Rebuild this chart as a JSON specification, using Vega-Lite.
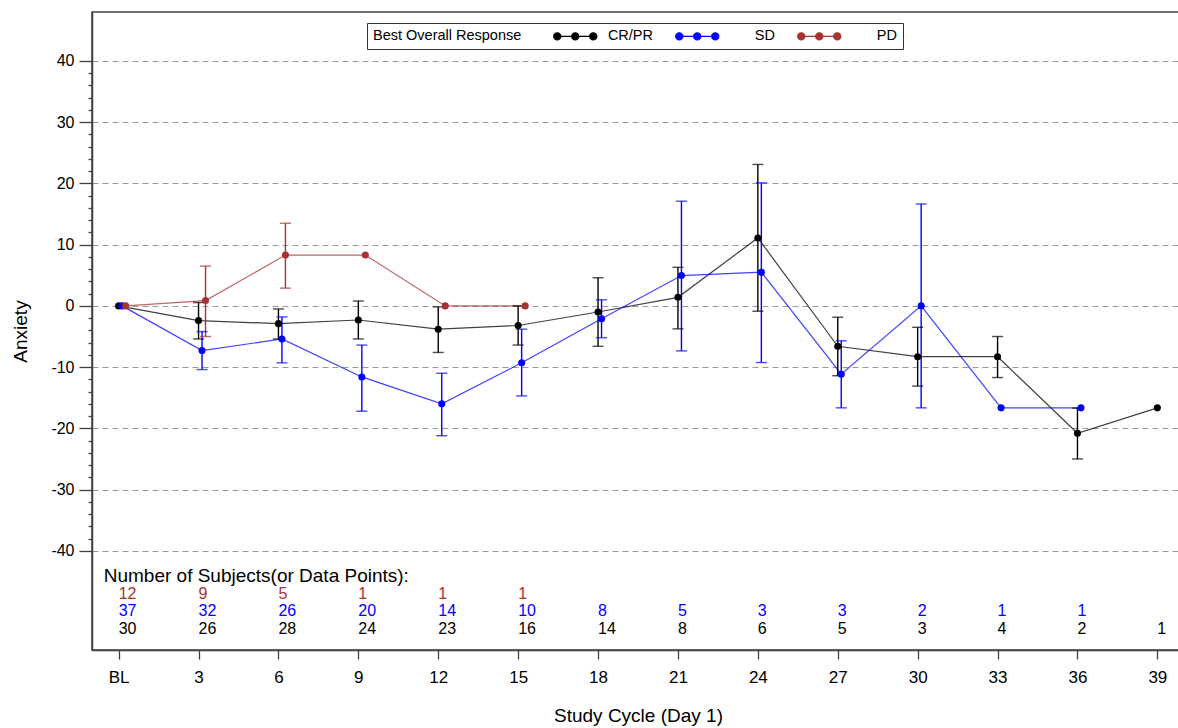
{
  "$schema": "https://vega.github.io/schema/vega-lite/v6.json",
  "width": 1092,
  "height": 638,
  "autosize": {"type": "none"},
  "padding": {"left": 92, "top": 12, "right": 0, "bottom": 78},
  "background": "white",
  "config": {
    "font": "Liberation Sans",
    "view": {"stroke": "#404040", "strokeWidth": 1.5}
  },
  "datasets": {
    "stats": [
      {"group": "CR/PR", "cycle": 0, "mean": 0, "lo": null, "hi": null},
      {"group": "CR/PR", "cycle": 3, "mean": -2.4, "lo": -5.4, "hi": 0.55},
      {"group": "CR/PR", "cycle": 6, "mean": -2.9, "lo": -5.4, "hi": -0.5},
      {"group": "CR/PR", "cycle": 9, "mean": -2.3, "lo": -5.4, "hi": 0.8},
      {"group": "CR/PR", "cycle": 12, "mean": -3.8, "lo": -7.6, "hi": -0.16},
      {"group": "CR/PR", "cycle": 15, "mean": -3.2, "lo": -6.4, "hi": 0.0},
      {"group": "CR/PR", "cycle": 18, "mean": -1.0, "lo": -6.6, "hi": 4.6},
      {"group": "CR/PR", "cycle": 21, "mean": 1.4, "lo": -3.75, "hi": 6.3},
      {"group": "CR/PR", "cycle": 24, "mean": 11.1, "lo": -0.87, "hi": 23.1},
      {"group": "CR/PR", "cycle": 27, "mean": -6.6, "lo": -11.4, "hi": -1.85},
      {"group": "CR/PR", "cycle": 30, "mean": -8.3, "lo": -13.1, "hi": -3.5},
      {"group": "CR/PR", "cycle": 33, "mean": -8.3, "lo": -11.7, "hi": -5.0},
      {"group": "CR/PR", "cycle": 36, "mean": -20.8, "lo": -25.0, "hi": -16.7},
      {"group": "CR/PR", "cycle": 39, "mean": -16.65, "lo": null, "hi": null},
      {"group": "SD", "cycle": 0, "mean": 0, "lo": null, "hi": null},
      {"group": "SD", "cycle": 3, "mean": -7.3, "lo": -10.4, "hi": -4.2},
      {"group": "SD", "cycle": 6, "mean": -5.4, "lo": -9.3, "hi": -1.8},
      {"group": "SD", "cycle": 9, "mean": -11.6, "lo": -17.2, "hi": -6.4},
      {"group": "SD", "cycle": 12, "mean": -16.0, "lo": -21.2, "hi": -11.0},
      {"group": "SD", "cycle": 15, "mean": -9.3, "lo": -14.7, "hi": -3.8},
      {"group": "SD", "cycle": 18, "mean": -2.1, "lo": -5.2, "hi": 1.0},
      {"group": "SD", "cycle": 21, "mean": 4.95, "lo": -7.35, "hi": 17.1},
      {"group": "SD", "cycle": 24, "mean": 5.5, "lo": -9.25, "hi": 20.1},
      {"group": "SD", "cycle": 27, "mean": -11.15, "lo": -16.65, "hi": -5.7},
      {"group": "SD", "cycle": 30, "mean": 0, "lo": -16.65, "hi": 16.65},
      {"group": "SD", "cycle": 33, "mean": -16.65, "lo": null, "hi": null},
      {"group": "SD", "cycle": 36, "mean": -16.65, "lo": null, "hi": null},
      {"group": "PD", "cycle": 0, "mean": 0, "lo": null, "hi": null},
      {"group": "PD", "cycle": 3, "mean": 0.87, "lo": -5.0, "hi": 6.5},
      {"group": "PD", "cycle": 6, "mean": 8.3, "lo": 2.9, "hi": 13.5},
      {"group": "PD", "cycle": 9, "mean": 8.3, "lo": null, "hi": null},
      {"group": "PD", "cycle": 12, "mean": 0, "lo": null, "hi": null},
      {"group": "PD", "cycle": 15, "mean": 0, "lo": null, "hi": null}
    ],
    "counts": [
      {"group": "PD", "cycle": 0, "n": 12},
      {"group": "PD", "cycle": 3, "n": 9},
      {"group": "PD", "cycle": 6, "n": 5},
      {"group": "PD", "cycle": 9, "n": 1},
      {"group": "PD", "cycle": 12, "n": 1},
      {"group": "PD", "cycle": 15, "n": 1},
      {"group": "SD", "cycle": 0, "n": 37},
      {"group": "SD", "cycle": 3, "n": 32},
      {"group": "SD", "cycle": 6, "n": 26},
      {"group": "SD", "cycle": 9, "n": 20},
      {"group": "SD", "cycle": 12, "n": 14},
      {"group": "SD", "cycle": 15, "n": 10},
      {"group": "SD", "cycle": 18, "n": 8},
      {"group": "SD", "cycle": 21, "n": 5},
      {"group": "SD", "cycle": 24, "n": 3},
      {"group": "SD", "cycle": 27, "n": 3},
      {"group": "SD", "cycle": 30, "n": 2},
      {"group": "SD", "cycle": 33, "n": 1},
      {"group": "SD", "cycle": 36, "n": 1},
      {"group": "CR/PR", "cycle": 0, "n": 30},
      {"group": "CR/PR", "cycle": 3, "n": 26},
      {"group": "CR/PR", "cycle": 6, "n": 28},
      {"group": "CR/PR", "cycle": 9, "n": 24},
      {"group": "CR/PR", "cycle": 12, "n": 23},
      {"group": "CR/PR", "cycle": 15, "n": 16},
      {"group": "CR/PR", "cycle": 18, "n": 14},
      {"group": "CR/PR", "cycle": 21, "n": 8},
      {"group": "CR/PR", "cycle": 24, "n": 6},
      {"group": "CR/PR", "cycle": 27, "n": 5},
      {"group": "CR/PR", "cycle": 30, "n": 3},
      {"group": "CR/PR", "cycle": 33, "n": 4},
      {"group": "CR/PR", "cycle": 36, "n": 2},
      {"group": "CR/PR", "cycle": 39, "n": 1}
    ]
  },
  "layer": [
    {
      "data": {"name": "stats"},
      "layer": [
        {
          "mark": {"type": "line", "strokeWidth": 1.2, "opacity": 0.75, "xOffset": {"expr": "datum.group === 'SD' ? 3.5 : datum.group === 'PD' ? 7 : 0"}},
          "encoding": {
            "x": {"field": "cycle", "type": "quantitative", "scale": {"domain": [-1, 40], "nice": false, "zero": false}},
            "y": {"field": "mean", "type": "quantitative", "scale": {"domain": [-56.2, 48], "nice": false, "zero": false},
              "axis": {"orient": "left", "values": [-38, -36, -34, -32, -28, -26, -24, -22, -18, -16, -14, -12, -8, -6, -4, -2, 2, 4, 6, 8, 12, 14, 16, 18, 22, 24, 26, 28, 32, 34, 36, 38],
                "labels": false, "grid": false, "domain": false, "title": null, "tickSize": 4, "tickColor": "#404040", "tickWidth": 1.3}},
            "color": {"field": "group", "type": "nominal"},
            "detail": {"field": "group"}
          }
        },
        {
          "transform": [{"filter": "isValid(datum.lo)"}],
          "mark": {"type": "rule", "strokeWidth": 1.4, "xOffset": {"expr": "datum.group === 'SD' ? 3.5 : datum.group === 'PD' ? 7 : 0"}},
          "encoding": {
            "x": {"field": "cycle", "type": "quantitative"},
            "y": {"field": "lo", "type": "quantitative", "axis": null},
            "y2": {"field": "hi"},
            "color": {"field": "group", "type": "nominal"}
          }
        },
        {
          "transform": [{"filter": "isValid(datum.lo)"}],
          "mark": {"type": "tick", "orient": "horizontal", "size": 11, "thickness": 1.4, "xOffset": {"expr": "datum.group === 'SD' ? 3.5 : datum.group === 'PD' ? 7 : 0"}},
          "encoding": {
            "x": {"field": "cycle", "type": "quantitative"},
            "y": {"field": "lo", "type": "quantitative", "axis": null},
            "color": {"field": "group", "type": "nominal"}
          }
        },
        {
          "transform": [{"filter": "isValid(datum.hi)"}],
          "mark": {"type": "tick", "orient": "horizontal", "size": 11, "thickness": 1.4, "xOffset": {"expr": "datum.group === 'SD' ? 3.5 : datum.group === 'PD' ? 7 : 0"}},
          "encoding": {
            "x": {"field": "cycle", "type": "quantitative"},
            "y": {"field": "hi", "type": "quantitative", "axis": null},
            "color": {"field": "group", "type": "nominal"}
          }
        },
        {
          "mark": {"type": "point", "filled": true, "size": 50, "opacity": 1, "xOffset": {"expr": "datum.group === 'SD' ? 3.5 : datum.group === 'PD' ? 7 : 0"}},
          "encoding": {
            "x": {"field": "cycle", "type": "quantitative",
              "axis": {"values": [0, 3, 6, 9, 12, 15, 18, 21, 24, 27, 30, 33, 36, 39], "labelExpr": "datum.value == 0 ? 'BL' : datum.label",
                "tickSize": 9, "tickColor": "#404040", "tickWidth": 1.3, "domainColor": "#404040", "domainWidth": 1.5,
                "labelFontSize": 17, "labelColor": "black", "labelPadding": 10, "grid": false,
                "title": "Study Cycle (Day 1)", "titleFontSize": 19, "titleFontWeight": "normal", "titleColor": "black", "titlePadding": 21}},
            "y": {"field": "mean", "type": "quantitative",
              "axis": {"orient": "left", "values": [-40, -30, -20, -10, 0, 10, 20, 30, 40], "labelExpr": "'' + datum.value",
                "tickSize": 13, "tickColor": "#404040", "tickWidth": 1.3, "domainColor": "#404040", "domainWidth": 1.5,
                "labelFontSize": 16, "labelColor": "black", "labelPadding": 5,
                "grid": true, "gridColor": "#999999", "gridDash": [6, 4], "gridWidth": 1,
                "title": "Anxiety", "titleFontSize": 19, "titleFontWeight": "normal", "titleColor": "black", "titlePadding": 20}},
            "color": {"field": "group", "type": "nominal",
              "scale": {"domain": ["CR/PR", "SD", "PD"], "range": ["#000000", "#0000FF", "#A93131"]},
              "legend": {
                "orient": "none", "legendX": 275, "legendY": 11, "direction": "horizontal", "columns": 3,
                "title": "Best Overall Response", "titleOrient": "left", "titleAnchor": "middle", "titleBaseline": "middle",
                "titleFontSize": 14.5, "titleFontWeight": "normal", "titleColor": "black", "titlePadding": 46,
                "symbolType": "M-4.1,0H4.1M-4.32,0a0.72,0.72 0 1,0 1.44,0a0.72,0.72 0 1,0 -1.44,0M-0.72,0a0.72,0.72 0 1,0 1.44,0a0.72,0.72 0 1,0 -1.44,0M2.88,0a0.72,0.72 0 1,0 1.44,0a0.72,0.72 0 1,0 -1.44,0",
                "symbolSize": 100, "symbolStrokeWidth": 1.2, "symbolOpacity": 1,
                "labelFontSize": 14.5, "labelColor": "black", "labelAlign": "right", "labelOffset": 70.5,
                "columnPadding": 20, "gridAlign": "all",
                "strokeColor": "#333333", "fillColor": "white", "padding": 6,
                "encode": {"symbols": {"update": {"stroke": {"scale": "color", "field": "value"}, "fill": {"scale": "color", "field": "value"}}}}
              }}
          }
        }
      ],
      "resolve": {"axis": {"y": "independent"}}
    },
    {
      "layer": [
        {
          "data": {"values": [{"row": "header", "label": "Number of Subjects(or Data Points):"}]},
          "mark": {"type": "text", "align": "left", "baseline": "middle", "fontSize": 19, "color": "black"},
          "encoding": {
            "x": {"datum": -0.56, "type": "quantitative"},
            "y": {"field": "row", "type": "nominal", "scale": {"type": "point", "domain": ["header", "PD", "SD", "CR/PR"], "range": [564, 617.2], "padding": 0}, "axis": null},
            "text": {"field": "label"}
          }
        },
        {
          "data": {"name": "counts"},
          "mark": {"type": "text", "align": "left", "baseline": "middle", "fontSize": 16},
          "encoding": {
            "x": {"field": "cycle", "type": "quantitative"},
            "y": {"field": "group", "type": "nominal", "axis": null},
            "text": {"field": "n"},
            "color": {"field": "group", "type": "nominal"}
          }
        }
      ]
    }
  ],
  "resolve": {"scale": {"y": "independent"}}
}
